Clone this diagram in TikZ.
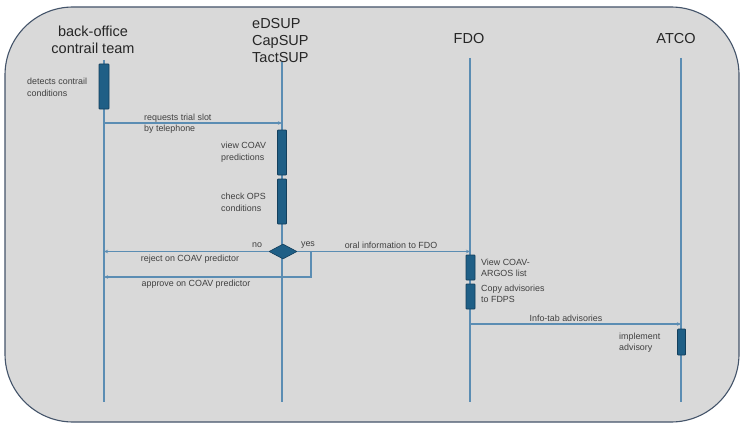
\documentclass[tikz,border=0pt]{standalone}
\usepackage{fontspec}
\setmainfont{Liberation Sans}
\usetikzlibrary{arrows.meta,shapes.geometric}
\definecolor{bgfill}{HTML}{D9D9D9}
\definecolor{bgline}{HTML}{44546A}
\definecolor{lifecol}{HTML}{5B8DB3}
\definecolor{barfill}{HTML}{1F5F86}
\definecolor{barline}{HTML}{133F5C}
\definecolor{smalltxt}{HTML}{404040}
\definecolor{titletxt}{HTML}{262626}
\begin{document}
\begin{tikzpicture}[x=1pt,y=-1pt,
  lifeline/.style={draw=lifecol,line width=1.1pt},
  msg/.style={draw=lifecol,line width=1.1pt,-{Stealth[length=4pt,width=3.5pt]}},
  actbar/.style={draw=barline,fill=barfill,line width=0.8pt,rounded corners=0.8pt},
  smalllabel/.style={text=smalltxt,font=\fontsize{8.9}{11.5}\selectfont,inner sep=0pt,align=left},
  titlelabel/.style={text=titletxt,font=\fontsize{14.5}{17}\selectfont,inner sep=0pt},
  decision/.style={diamond,draw=barline,fill=barfill,line width=0.6pt,minimum width=28pt,minimum height=15pt,inner sep=0pt,aspect=1.87}]
\useasboundingbox (0,0) rectangle (743,425);
\fill[white] (0,0) rectangle (743,425);
\draw[bgline,fill=bgfill,line width=1.1pt,rounded corners=68pt] (5,7) rectangle (739,422);

% titles
\node[titlelabel,align=center] (tbo) at (93,40) {back-office\\contrail team};
\node[titlelabel,align=left,anchor=west] (ted) at (252,41) {eDSUP\\CapSUP\\TactSUP};
\node[titlelabel] (tfdo) at (469,39) {FDO};
\node[titlelabel] (tatco) at (676,39) {ATCO};

% lifelines
\coordinate (bo0) at (104,60); \coordinate (bo1) at (104,402);
\coordinate (ed0) at (282,62); \coordinate (ed1) at (282,402);
\coordinate (fd0) at (470,58); \coordinate (fd1) at (470,402);
\coordinate (at0) at (681,58); \coordinate (at1) at (681,402);
\draw[lifeline] (bo0) -- (bo1);
\draw[lifeline] (ed0) -- (ed1);
\draw[lifeline] (fd0) -- (fd1);
\draw[lifeline] (at0) -- (at1);

% activation bars
\draw[actbar] (99,64) rectangle (109,109);
\draw[actbar] (277.5,130) rectangle (286.5,175);
\draw[actbar] (277.5,179) rectangle (286.5,224);
\draw[actbar] (466,255) rectangle (475,280);
\draw[actbar] (466,284) rectangle (475,309);
\draw[actbar] (677.5,329) rectangle (685.5,355);

% messages
\coordinate (reqA) at (104,123); \coordinate (reqB) at (282,123);
\draw[msg] (reqA) -- (reqB);

\node[decision] (dec) at (283,251.5) {};
\coordinate (rejB) at (104,251.5);
\draw[msg] (dec.west) -- (rejB);
\coordinate (oralB) at (470,251.5);
\draw[msg] (dec.east) -- (oralB);
\coordinate (yesc) at (311,251.5);
\coordinate (appB) at (104,277);
\draw[msg] (yesc) |- (appB);

\coordinate (infA) at (470,324); \coordinate (infB) at (681,324);
\draw[msg] (infA) -- (infB);

% labels
\node[smalllabel,anchor=west] (l1) at (27,87.5) {detects contrail\\conditions};
\node[smalllabel,anchor=west] (l2) at (144,123.5) {requests trial slot\\by telephone};
\node[smalllabel,anchor=west] (l3) at (221,152) {view COAV\\predictions};
\node[smalllabel,anchor=west] (l4) at (221,202.5) {check OPS\\conditions};
\node[smalllabel] (lno) at (257,245) {no};
\node[smalllabel] (lyes) at (308,245) {yes};
\node[smalllabel] (lrej) at (190,259) {reject on COAV predictor};
\node[smalllabel] (lapp) at (196,284.5) {approve on COAV predictor};
\node[smalllabel] (loral) at (391,245) {oral information to FDO};
\node[smalllabel,anchor=west] (l5) at (481,268) {View COAV-\\ARGOS list};
\node[smalllabel,anchor=west] (l6) at (481,294) {Copy advisories\\to FDPS};
\node[smalllabel] (linf) at (566,318) {Info-tab advisories};
\node[smalllabel,anchor=west] (l7) at (619,342.5) {implement\\advisory};
\end{tikzpicture}
\end{document}
